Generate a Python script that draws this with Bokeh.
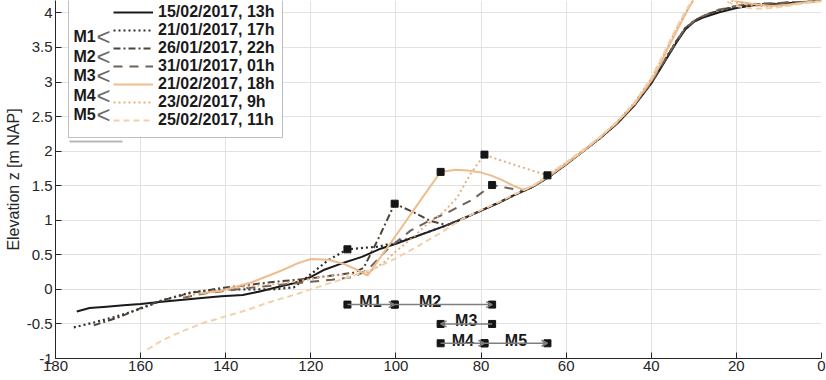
from bokeh.plotting import figure
from bokeh.models import (Range1d, FixedTicker, Legend, LegendItem, Arrow, OpenHead,
                          Label, BoxAnnotation, CustomJSTickFormatter)
from bokeh.core.properties import value
from bokeh.embed import file_html
from bokeh.resources import INLINE

FONT = "Liberation Sans"

# ---------------- data ----------------
# 15/02/2017, 13h (reference profile)
x_1502 = [175, 172, 168, 164, 160, 155, 150, 145, 141, 136, 132, 128, 124, 120, 117, 113, 108, 104, 100, 96,
          92, 88, 84, 80, 76, 72, 68, 64, 60, 56, 52, 48, 44, 40, 38, 36, 34, 32, 30, 28,
          26, 24, 20, 16, 12, 8, 4, 0]
y_1502 = [-0.32, -0.27, -0.25, -0.23, -0.21, -0.18, -0.15, -0.12, -0.10, -0.08, -0.03, 0.03, 0.09, 0.18, 0.28, 0.37, 0.47, 0.58, 0.66, 0.75,
          0.84, 0.93, 1.03, 1.14, 1.25, 1.37, 1.48, 1.63, 1.81, 2.0, 2.19, 2.4, 2.66, 2.98, 3.18, 3.38, 3.58, 3.76, 3.87, 3.93,
          3.97, 4.01, 4.07, 4.11, 4.12, 4.14, 4.16, 4.18]

# 21/01/2017, 17h
x_2101 = [175.7, 171, 165, 160, 155, 148, 141, 135, 129, 124, 120, 116, 111.4, 104, 100, 96, 92, 88, 84, 80,
          76, 72, 68, 64, 60, 56, 52, 48, 44, 40, 38, 36, 34, 32, 30, 28, 26, 24, 20, 16,
          12, 8, 4, 0]
y_2101 = [-0.55, -0.48, -0.38, -0.28, -0.16, -0.04, 0.0, 0.0, 0.0, 0.03, 0.22, 0.42, 0.58, 0.62, 0.68, 0.75, 0.84, 0.93, 1.03, 1.14,
          1.25, 1.37, 1.48, 1.63, 1.81, 2.0, 2.19, 2.41, 2.67, 2.99, 3.2, 3.4, 3.6, 3.78, 3.88, 3.94, 3.99, 4.03, 4.09, 4.12,
          4.13, 4.14, 4.16, 4.18]

# 26/01/2017, 22h
x_2601 = [171, 165, 160, 155, 148, 141, 135, 130, 125, 120, 115, 110, 107.6, 104, 100.3, 96, 91.9, 88, 84, 80,
          76, 72, 68, 64, 60, 56, 52, 48, 44, 40, 38, 36, 34, 32, 30, 28, 26, 24, 20, 16,
          12, 8, 4, 0]
y_2601 = [-0.52, -0.40, -0.27, -0.16, -0.05, 0.02, 0.06, 0.10, 0.13, 0.16, 0.20, 0.24, 0.31, 0.75, 1.24, 1.12, 0.99, 0.93, 1.03, 1.14,
          1.25, 1.37, 1.48, 1.63, 1.81, 2.0, 2.19, 2.41, 2.67, 2.99, 3.2, 3.4, 3.6, 3.78, 3.88, 3.95, 4.0, 4.04, 4.1, 4.13,
          4.13, 4.15, 4.16, 4.18]

# 31/01/2017, 01h
x_3101 = [150, 145, 140, 135, 130, 125, 120, 115, 110, 106.7, 102, 96.6, 92, 87.9, 82, 77.4, 74, 70.7, 68, 64,
          60, 56, 52, 48, 44, 40, 38, 36, 34, 32, 30, 28, 26, 24, 20, 16, 12, 8, 4, 0]
y_3101 = [-0.12, -0.06, -0.02, 0.02, 0.05, 0.08, 0.11, 0.14, 0.18, 0.28, 0.58, 0.85, 1.0, 1.11, 1.3, 1.51, 1.47, 1.43, 1.48, 1.63,
          1.81, 2.0, 2.19, 2.41, 2.67, 2.99, 3.2, 3.4, 3.6, 3.78, 3.88, 3.95, 4.0, 4.05, 4.1, 4.13, 4.14, 4.15, 4.16, 4.18]

# 21/02/2017, 18h
x_2102 = [146, 141, 134, 127, 123, 120, 116, 112.3, 109, 106.7, 100, 94, 89.5, 86, 83.2, 80, 77.7, 75, 72.4, 70,
          68, 64, 60, 56, 52, 48, 44, 40, 38, 36, 34, 32, 30, 28, 26, 24, 22, 20, 16, 12,
          8, 4, 0]
y_2102 = [-0.06, -0.02, 0.10, 0.27, 0.38, 0.44, 0.43, 0.37, 0.28, 0.20, 0.78, 1.31, 1.70, 1.73, 1.72, 1.69, 1.65, 1.58, 1.50, 1.44,
          1.49, 1.64, 1.82, 2.0, 2.2, 2.42, 2.68, 3.02, 3.24, 3.5, 3.74, 3.98, 4.2, 4.3, 4.31, 4.27, 4.22, 4.17, 4.13, 4.1,
          4.12, 4.15, 4.18]

# 23/02/2017, 9h
x_2302 = [150, 145, 140, 135, 130, 125, 120, 115, 110, 106.7, 103, 100, 96, 93.5, 88.8, 85.6, 82.5, 79.2, 76, 72,
          68, 64.4, 60, 56, 52, 48, 44, 40, 38, 36, 34, 32, 30, 28, 26, 24, 22, 20, 16, 12,
          8, 4, 0]
y_2302 = [-0.10, -0.05, 0.0, 0.04, 0.07, 0.10, 0.15, 0.20, 0.22, 0.24, 0.38, 0.55, 0.75, 0.90, 1.12, 1.33, 1.67, 1.95, 1.88, 1.80,
          1.72, 1.65, 1.83, 2.01, 2.2, 2.43, 2.7, 3.05, 3.28, 3.53, 3.78, 4.0, 4.2, 4.28, 4.3, 4.26, 4.2, 4.15, 4.11, 4.09,
          4.11, 4.15, 4.18]

# 25/02/2017, 11h
x_2502 = [158.4, 155, 150, 145, 140, 135, 130, 125, 120, 115, 110, 105, 100, 95, 90, 87, 84, 80, 76, 72,
          68, 64.4, 60, 56, 52, 48, 44, 40, 38, 36, 34, 32, 30, 28, 26, 24, 22, 20, 16, 12,
          8, 4, 0]
y_2502 = [-0.87, -0.74, -0.60, -0.48, -0.39, -0.30, -0.19, -0.10, 0.0, 0.10, 0.20, 0.30, 0.45, 0.62, 0.80, 0.92, 1.03, 1.15, 1.26, 1.38,
          1.49, 1.65, 1.84, 2.02, 2.21, 2.43, 2.7, 3.06, 3.3, 3.55, 3.8, 4.02, 4.22, 4.3, 4.28, 4.22, 4.16, 4.1, 4.06, 4.07,
          4.1, 4.14, 4.17]

series_labels = ["15/02/2017, 13h", "21/01/2017, 17h", "26/01/2017, 22h", "31/01/2017, 01h",
                 "21/02/2017, 18h", "23/02/2017, 9h", "25/02/2017, 11h"]

# crest positions (21/01, 26/01, 31/01, 21/02, 23/02, 25/02)
crest_x = [111.4, 100.3, 77.4, 89.5, 79.2, 64.4]
crest_y = [0.58, 1.24, 1.51, 1.70, 1.95, 1.65]

# migrations between successive crests
mig_names = ["M1", "M2", "M3", "M4", "M5"]
mig_start = [111.4, 100.3, 77.4, 89.5, 79.2]
mig_end = [100.3, 77.4, 89.5, 79.2, 64.4]
mig_row = [-0.22, -0.22, -0.50, -0.78, -0.78]
mig_label_x = [106.0, 92.0, 83.5, 84.3, 71.8]

x_ticks = [0, 20, 40, 60, 80, 100, 120, 140, 160, 180]
y_ticks = [-1, -0.5, 0, 0.5, 1, 1.5, 2, 2.5, 3, 3.5, 4]

# ---------------- figure ----------------
p = figure(width=826, height=380, output_backend="svg", toolbar_location=None,
           x_range=Range1d(180, 0), y_range=Range1d(-1, 4.18),
           min_border_left=55, min_border_right=5, min_border_top=0, min_border_bottom=22)
p.outline_line_color = None
p.background_fill_color = "white"

for ax, ticks in ((p.xaxis, x_ticks), (p.yaxis, y_ticks)):
    ax.ticker = FixedTicker(ticks=ticks)
    ax.major_tick_in = 6
    ax.major_tick_out = 0
    ax.minor_tick_line_color = None
    ax.axis_line_color = "#262626"
    ax.major_tick_line_color = "#262626"
    ax.major_label_text_font = FONT
    ax.major_label_text_font_size = "15px"
    ax.major_label_text_color = "#262626"
    ax.formatter = CustomJSTickFormatter(code="return String(tick);")
p.xaxis.major_label_standoff = 2
p.yaxis.major_label_standoff = 3
p.yaxis.axis_label = "Elevation z [m NAP]"
p.yaxis.axis_label_text_font = FONT
p.yaxis.axis_label_text_font_size = "16px"
p.yaxis.axis_label_text_font_style = "normal"
p.yaxis.axis_label_text_color = "#262626"
p.yaxis.axis_label_standoff = 2

p.xgrid.ticker = FixedTicker(ticks=x_ticks)
p.ygrid.ticker = FixedTicker(ticks=y_ticks)
p.xgrid.grid_line_color = "#e2e2e2"
p.ygrid.grid_line_color = "#e2e2e2"

styles = [
    (x_1502, y_1502, "#1a1a1a", "solid", 2.0),
    (x_2101, y_2101, "#2e2e2e", "2 3", 2.2),
    (x_2601, y_2601, "#4d4238", "7 3 2 3", 2.0),
    (x_3101, y_3101, "#6d6259", "9 7", 2.0),
    (x_2102, y_2102, "#edbd8e", "solid", 2.0),
    (x_2302, y_2302, "#e4b07f", "2 3", 2.0),
    (x_2502, y_2502, "#f3d0aa", "6 4", 2.0),
]
renderers = []
for xs, ys, col, dash, lw in styles:
    r = p.line(xs, ys, line_color=col, line_dash=dash, line_width=lw)
    renderers.append(r)

# crest markers
p.scatter(crest_x, crest_y, marker="square", size=7, color="#151515")

# migration arrows
for xs, xe, yr in zip(mig_start, mig_end, mig_row):
    p.add_layout(Arrow(x_start=xs, y_start=yr, x_end=xe, y_end=yr,
                       line_color="#7f7f7f", line_width=1.5,
                       end=OpenHead(size=6, line_color="#7f7f7f", line_width=1.5)))
p.scatter(mig_start + mig_end, mig_row + mig_row, marker="square", size=7, color="#151515")
p.text(x=mig_label_x, y=mig_row, text=mig_names, text_font=value(FONT), text_font_style="bold",
       text_font_size="16px", text_align="center", text_baseline="alphabetic", y_offset=-3,
       text_color="#1a1a1a")

# legend box (screen units, relative to the frame's bottom-left corner)
box = BoxAnnotation(left=13, right=227, bottom=221, top=600,
                    left_units="screen", right_units="screen",
                    bottom_units="screen", top_units="screen",
                    fill_color="white", fill_alpha=1.0,
                    line_color="#303030", line_width=1)
p.add_layout(box)
shadow = BoxAnnotation(left=14, right=67, bottom=216, top=218,
                       left_units="screen", right_units="screen",
                       bottom_units="screen", top_units="screen",
                       fill_color="#b8b8b8", fill_alpha=1.0, line_alpha=0)
p.add_layout(shadow)

items = [LegendItem(label=lab, renderers=[r]) for lab, r in zip(series_labels, renderers)]
leg = Legend(items=items, location=(58, 229), padding=0, margin=0, spacing=0,
             label_height=18, glyph_height=18, glyph_width=40, label_standoff=5,
             border_line_alpha=0, background_fill_alpha=0,
             label_text_font=FONT, label_text_font_size="16px",
             label_text_font_style="bold", label_text_color="#1a1a1a")
p.add_layout(leg)

m_y = [322, 302.5, 283, 263.5, 244]
for name, yy in zip(mig_names, m_y):
    p.add_layout(Label(x=29, y=yy, x_units="screen", y_units="screen", text=name,
                       text_font=FONT, text_font_style="bold", text_font_size="16px",
                       text_align="center", text_baseline="middle", text_color="#1a1a1a"))
    p.add_layout(Label(x=48, y=yy, x_units="screen", y_units="screen", text="<",
                       text_font=FONT, text_font_size="24px",
                       text_align="center", text_baseline="middle", text_color="#6a6a6a"))

open("out.html", "w").write(file_html(p, INLINE))
